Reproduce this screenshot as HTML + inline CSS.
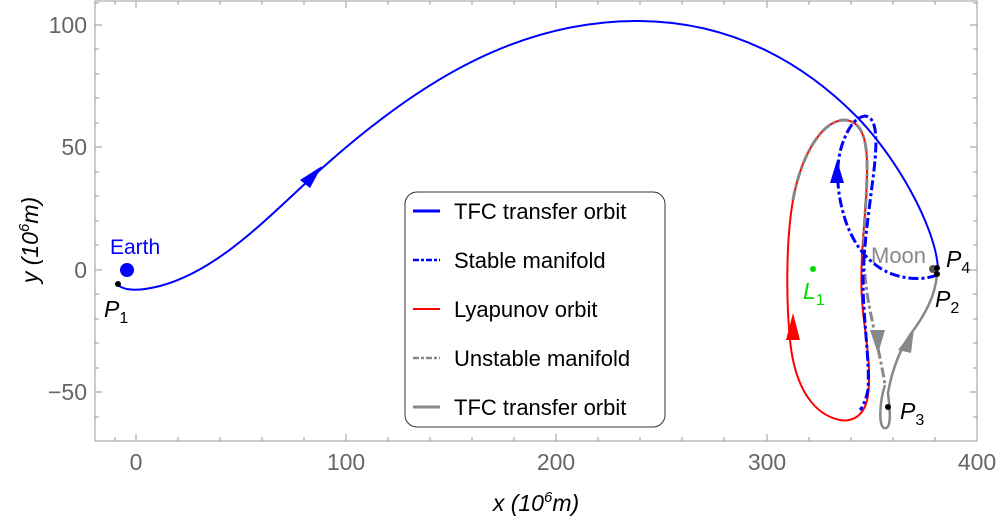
<!DOCTYPE html>
<html><head><meta charset="utf-8"><style>
html,body{margin:0;padding:0;background:#fff;}
svg{display:block;font-family:"Liberation Sans",sans-serif;}
</style></head><body>
<svg width="1000" height="523" viewBox="0 0 1000 523" xmlns="http://www.w3.org/2000/svg">
<rect x="95" y="1" width="882" height="440" fill="none" stroke="#999" stroke-width="1"/>
<g stroke="#999" stroke-width="1">
<path d="M136,441v-7M346,441v-7M556,441v-7M767,441v-7M977,441v-7M136,1v7M346,1v7M556,1v7M767,1v7"/>
<path d="M178,441v-4M220,441v-4M262,441v-4M304,441v-4M388,441v-4M430,441v-4M472,441v-4M514,441v-4M598,441v-4M640,441v-4M682,441v-4M724,441v-4M809,441v-4M851,441v-4M893,441v-4M935,441v-4M115,441v-4"/>
<path d="M178,1v4M220,1v4M262,1v4M304,1v4M388,1v4M430,1v4M472,1v4M514,1v4M598,1v4M640,1v4M682,1v4M724,1v4M809,1v4M851,1v4M893,1v4M935,1v4M115,1v4"/>
<path d="M95,25h7M95,147h7M95,270h7M95,392h7M977,25h-7M977,147h-7M977,270h-7M977,392h-7"/>
<path d="M95,49h4M95,74h4M95,98h4M95,123h4M95,172h4M95,196h4M95,221h4M95,245h4M95,294h4M95,319h4M95,343h4M95,368h4M95,417h4M95,3h4"/>
<path d="M977,49h-4M977,74h-4M977,98h-4M977,123h-4M977,172h-4M977,196h-4M977,221h-4M977,245h-4M977,294h-4M977,319h-4M977,343h-4M977,368h-4M977,417h-4M977,3h-4"/>
</g>
<g fill="#666" font-size="23">
<text x="87" y="33" text-anchor="end">100</text>
<text x="87" y="155" text-anchor="end">50</text>
<text x="87" y="278" text-anchor="end">0</text>
<text x="87" y="400" text-anchor="end">−50</text>
<text x="136" y="470" text-anchor="middle">0</text>
<text x="346" y="470" text-anchor="middle">100</text>
<text x="556" y="470" text-anchor="middle">200</text>
<text x="767" y="470" text-anchor="middle">300</text>
<text x="977" y="470" text-anchor="middle">400</text>
</g>
<text x="536" y="511" text-anchor="middle" font-size="23" font-style="italic">x (10<tspan dy="-9" font-size="15">6</tspan><tspan dy="9">m)</tspan></text>
<text transform="translate(38,240) rotate(-90)" text-anchor="middle" font-size="23" font-style="italic">y (10<tspan dy="-9" font-size="15">6</tspan><tspan dy="9">m)</tspan></text>

<path d="M118,285 C125,291 140,291 160,286 C220,270 270,215 320,170 C420,80 520,20 640,21 C740,22 810,70 855,115 C895,155 935,225 938,268" fill="none" stroke="#00f" stroke-width="2"/>
<path d="M300,180 L322,166 L310,188 z" fill="#00f"/>

<path d="M845,120 C870,122 868,160 866,200 C863,240 860,270 862,300 C864,330 872,365 868,395 C865,418 850,422 840,420 C815,415 795,390 790,340 C786,300 786,240 793,200 C800,160 820,120 845,120 Z" fill="none" stroke="#f00" stroke-width="2"/>
<path d="M793,313 L786,340 L800,340 z" fill="#f00"/>

<path d="M793,200 C800,160 820,120 845,120 C870,122 868,160 866,200 C863,240 862,270 870,310 C876,340 882,365 885,385" fill="none" stroke="#888" stroke-width="3" stroke-dasharray="10,3,3,3"/>
<path d="M870,330 L878,354 L885,330 z" fill="#888"/>
<path d="M885,385 C880,400 878,425 884,428 C892,430 890,410 888,393 C892,370 900,350 910,335 C925,315 936,295 937,273" fill="none" stroke="#888" stroke-width="2.5"/>
<path d="M898,350 L914,329 L911,353 z" fill="#888"/>

<path d="M937,275 C920,282 895,278 880,268 C865,258 855,245 847,225 C838,200 834,170 842,145 C848,127 856,117 865,116 C876,117 878,135 874,170 C870,205 864,240 863,280 C863,320 870,360 868,390 C866,400 862,408 860,410" fill="none" stroke="#00f" stroke-width="3" stroke-dasharray="10,3,3,3"/>
<path d="M837,160 L830,183 L844,183 z" fill="#00f"/>

<circle cx="127" cy="270" r="7" fill="#00f"/>
<text x="110" y="254" fill="#00f" font-size="21">Earth</text>
<circle cx="118" cy="284" r="3" fill="#000"/>
<text x="104" y="317" font-size="23" font-style="italic">P<tspan dy="6" font-size="16" font-style="normal">1</tspan></text>
<circle cx="813" cy="269" r="3" fill="#0d0"/>
<text x="803" y="299" fill="#0d0" font-size="23" font-style="italic">L<tspan dy="6" font-size="16" font-style="normal">1</tspan></text>
<text x="871" y="263" fill="#888" font-size="22">Moon</text>
<circle cx="933" cy="269" r="4" fill="#555"/>
<circle cx="937" cy="268" r="3" fill="#000"/>
<circle cx="937" cy="274" r="3" fill="#000"/>
<text x="946" y="267" font-size="23" font-style="italic">P<tspan dy="6" font-size="16" font-style="normal">4</tspan></text>
<text x="935" y="307" font-size="23" font-style="italic">P<tspan dy="6" font-size="16" font-style="normal">2</tspan></text>
<circle cx="888" cy="407" r="3" fill="#000"/>
<text x="900" y="419" font-size="23" font-style="italic">P<tspan dy="6" font-size="16" font-style="normal">3</tspan></text>

<rect x="405" y="192" width="260" height="235" rx="12" fill="#fff" stroke="#333" stroke-width="1"/>
<g stroke-width="3">
<line x1="413" y1="211" x2="440" y2="211" stroke="#00f"/>
<line x1="413" y1="260" x2="440" y2="260" stroke="#00f" stroke-dasharray="6,2,3,2" stroke-width="2.5"/>
<line x1="413" y1="309" x2="440" y2="309" stroke="#f00" stroke-width="2"/>
<line x1="413" y1="358" x2="440" y2="358" stroke="#888" stroke-dasharray="6,2,3,2" stroke-width="2.5"/>
<line x1="413" y1="407" x2="440" y2="407" stroke="#888"/>
</g>
<g font-size="22" fill="#000">
<text x="454" y="219">TFC transfer orbit</text>
<text x="454" y="268">Stable manifold</text>
<text x="454" y="317">Lyapunov orbit</text>
<text x="454" y="366">Unstable manifold</text>
<text x="454" y="415">TFC transfer orbit</text>
</g>
</svg>
</body></html>
